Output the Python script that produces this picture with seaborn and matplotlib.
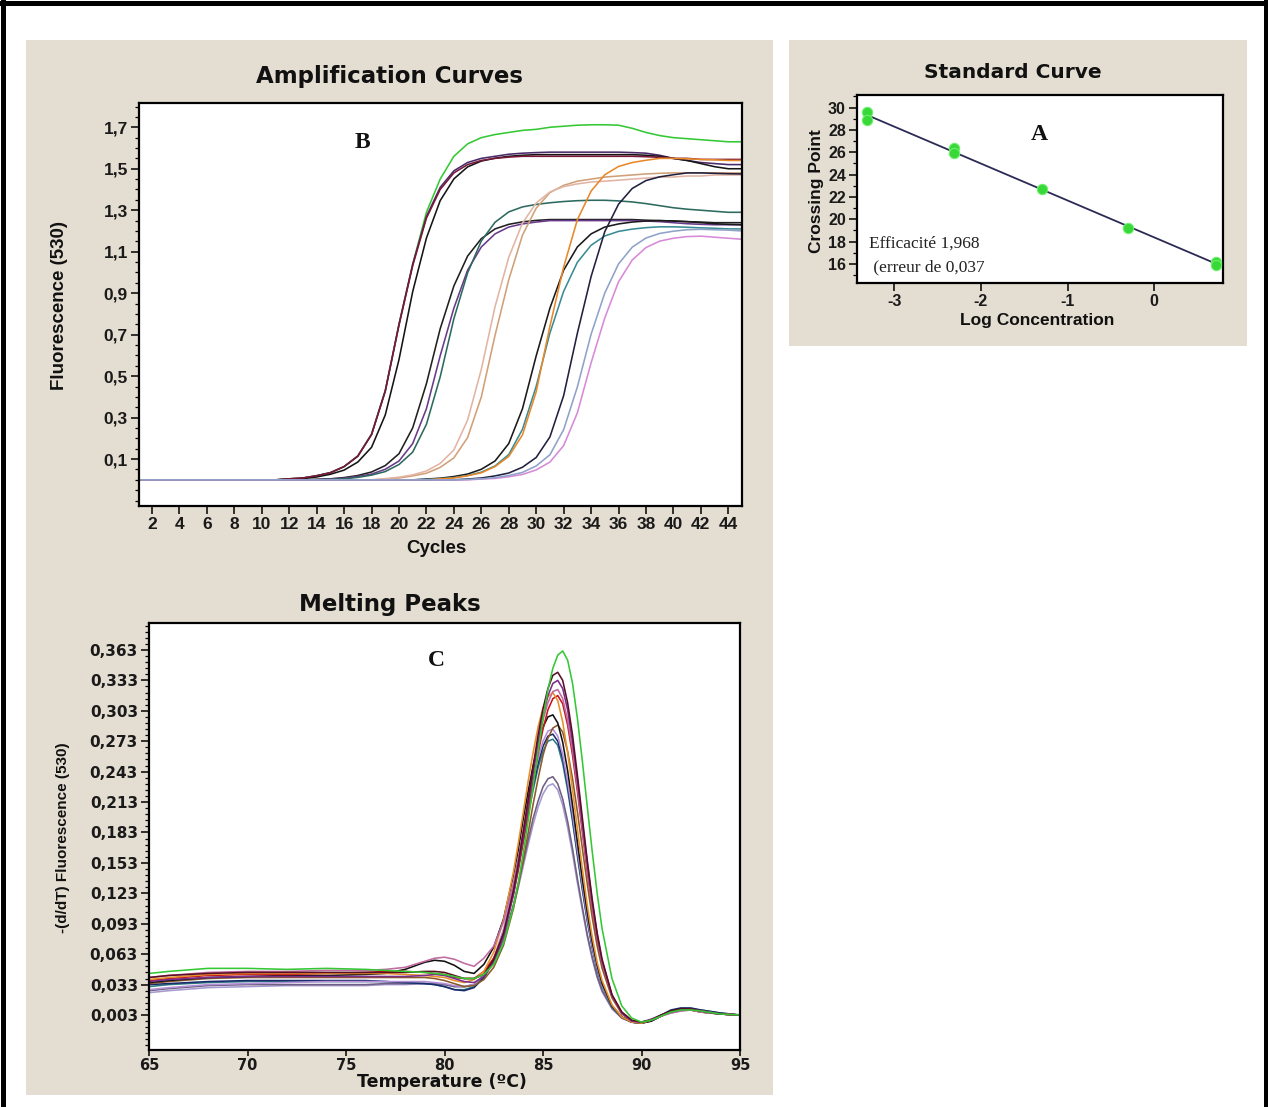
import numpy as np
import pandas as pd
import matplotlib
matplotlib.use("Agg")
import matplotlib.pyplot as plt
import seaborn as sns
from matplotlib.patches import Rectangle
from matplotlib.lines import Line2D
from matplotlib.ticker import FixedLocator, MultipleLocator

# ------------------------------------------------------------------ DATA
# Amplification curves (fluorescence 530 per cycle)
cycles = list(range(1, 46))
amp_names = ["green", "purple1", "black1", "maroon", "black2", "purple2", "teal1",
             "tan", "pinktan", "black3", "teal2", "orange", "navy", "pink", "greyblue"]
amp_colors = ["#35c835", "#4a2a6a", "#151515", "#7a1838", "#202020", "#6a3a8a", "#2c6a60",
              "#d0a078", "#e2b4a4", "#1a1a1a", "#3a8c94", "#e8882a", "#20203f", "#d889d8", "#8fa2c8"]

amp_green = [0.0, 0.0, 0.0, 0.0, 0.0, 0.0, 0.0, 0.0, 0.0, 0.0, 0.0,
             0.005, 0.009, 0.020, 0.035, 0.064, 0.115, 0.220, 0.430, 0.750, 1.040,
             1.290, 1.450, 1.560, 1.620, 1.650, 1.665, 1.675, 1.685, 1.690, 1.700,
             1.705, 1.710, 1.712, 1.712, 1.710, 1.695, 1.675, 1.660, 1.650, 1.645,
             1.640, 1.635, 1.630, 1.630]
amp_purple1 = [0.0, 0.0, 0.0, 0.0, 0.0, 0.0, 0.0, 0.0, 0.0, 0.0, 0.0,
               0.005, 0.009, 0.020, 0.035, 0.064, 0.115, 0.220, 0.430, 0.750, 1.040,
               1.270, 1.410, 1.490, 1.530, 1.550, 1.560, 1.570, 1.575, 1.578, 1.580,
               1.580, 1.580, 1.580, 1.580, 1.580, 1.578, 1.575, 1.565, 1.550, 1.540,
               1.530, 1.525, 1.520, 1.520]
amp_black1 = [0.0, 0.0, 0.0, 0.0, 0.0, 0.0, 0.0, 0.0, 0.0, 0.0, 0.0,
              0.003, 0.006, 0.014, 0.027, 0.047, 0.086, 0.157, 0.313, 0.580, 0.908,
              1.166, 1.346, 1.451, 1.509, 1.537, 1.551, 1.560, 1.565, 1.568, 1.568,
              1.568, 1.568, 1.568, 1.568, 1.568, 1.568, 1.565, 1.560, 1.550, 1.540,
              1.525, 1.510, 1.500, 1.500]
amp_maroon = [0.0, 0.0, 0.0, 0.0, 0.0, 0.0, 0.0, 0.0, 0.0, 0.0, 0.0,
              0.005, 0.009, 0.020, 0.034, 0.064, 0.114, 0.218, 0.427, 0.746, 1.033,
              1.262, 1.400, 1.480, 1.520, 1.540, 1.550, 1.556, 1.560, 1.560, 1.560,
              1.560, 1.560, 1.560, 1.560, 1.560, 1.560, 1.558, 1.555, 1.550, 1.550,
              1.545, 1.545, 1.545, 1.545]
amp_black2 = [0.0, 0.0, 0.0, 0.0, 0.0, 0.0, 0.0, 0.0, 0.0, 0.0, 0.0, 0.0, 0.0,
              0.003, 0.005, 0.011, 0.021, 0.038, 0.069, 0.126, 0.251,
              0.464, 0.728, 0.935, 1.079, 1.163, 1.210, 1.232, 1.244, 1.251, 1.255,
              1.255, 1.255, 1.255, 1.255, 1.255, 1.255, 1.252, 1.250, 1.248, 1.245,
              1.243, 1.240, 1.240, 1.240]
amp_purple2 = [0.0, 0.0, 0.0, 0.0, 0.0, 0.0, 0.0, 0.0, 0.0, 0.0, 0.0, 0.0, 0.0, 0.0,
               0.004, 0.008, 0.016, 0.028, 0.051, 0.091, 0.175,
               0.343, 0.598, 0.828, 1.011, 1.123, 1.186, 1.219, 1.234, 1.243, 1.250,
               1.250, 1.250, 1.250, 1.250, 1.250, 1.250, 1.248, 1.245, 1.240, 1.235,
               1.232, 1.230, 1.230, 1.230]
amp_teal1 = [0.0, 0.0, 0.0, 0.0, 0.0, 0.0, 0.0, 0.0, 0.0, 0.0, 0.0, 0.0, 0.0, 0.0,
             0.003, 0.005, 0.012, 0.023, 0.040, 0.074, 0.134,
             0.268, 0.496, 0.777, 0.998, 1.152, 1.242, 1.292, 1.316, 1.328, 1.336,
             1.342, 1.346, 1.348, 1.348, 1.345, 1.340, 1.332, 1.322, 1.312, 1.305,
             1.300, 1.295, 1.290, 1.290]
amp_tan = [0.0, 0.0, 0.0, 0.0, 0.0, 0.0, 0.0, 0.0, 0.0, 0.0, 0.0, 0.0, 0.0, 0.0, 0.0, 0.0, 0.0, 0.0,
           0.004, 0.009, 0.019,
           0.032, 0.060, 0.106, 0.204, 0.400, 0.697, 0.965, 1.180, 1.310, 1.385,
           1.420, 1.440, 1.450, 1.460, 1.465, 1.470, 1.475, 1.478, 1.480, 1.480,
           1.480, 1.480, 1.480, 1.480]
amp_pinktan = [0.0, 0.0, 0.0, 0.0, 0.0, 0.0, 0.0, 0.0, 0.0, 0.0, 0.0, 0.0, 0.0, 0.0, 0.0, 0.0, 0.0, 0.0,
               0.006, 0.013, 0.024,
               0.043, 0.079, 0.144, 0.288, 0.533, 0.835, 1.073, 1.238, 1.335, 1.388,
               1.414, 1.427, 1.436, 1.440, 1.445, 1.450, 1.455, 1.460, 1.460, 1.465,
               1.465, 1.470, 1.470, 1.470]
amp_black3 = [0.0, 0.0, 0.0, 0.0, 0.0, 0.0, 0.0, 0.0, 0.0, 0.0,
              0.0, 0.0, 0.0, 0.0, 0.0, 0.0, 0.0, 0.0, 0.0, 0.0, 0.0,
              0.004, 0.008, 0.016, 0.028, 0.051, 0.091, 0.175, 0.343, 0.598, 0.828,
              1.011, 1.123, 1.186, 1.219, 1.234, 1.243, 1.248, 1.250, 1.248, 1.245,
              1.240, 1.235, 1.232, 1.230]
amp_teal2 = [0.0, 0.0, 0.0, 0.0, 0.0, 0.0, 0.0, 0.0, 0.0, 0.0,
             0.0, 0.0, 0.0, 0.0, 0.0, 0.0, 0.0, 0.0, 0.0, 0.0, 0.0,
             0.002, 0.005, 0.011, 0.021, 0.037, 0.067, 0.122, 0.244, 0.451, 0.708,
             0.909, 1.049, 1.131, 1.176, 1.198, 1.209, 1.216, 1.220, 1.220, 1.218,
             1.215, 1.213, 1.210, 1.210]
amp_orange = [0.0, 0.0, 0.0, 0.0, 0.0, 0.0, 0.0, 0.0, 0.0, 0.0,
              0.0, 0.0, 0.0, 0.0, 0.0, 0.0, 0.0, 0.0, 0.0, 0.0, 0.0, 0.0,
              0.005, 0.009, 0.020, 0.034, 0.064, 0.113, 0.217, 0.425, 0.741,
              1.026, 1.254, 1.392, 1.471, 1.511, 1.530, 1.541, 1.550, 1.550, 1.548,
              1.545, 1.543, 1.540, 1.540]
amp_navy = [0.0, 0.0, 0.0, 0.0, 0.0, 0.0, 0.0, 0.0, 0.0, 0.0,
            0.0, 0.0, 0.0, 0.0, 0.0, 0.0, 0.0, 0.0, 0.0, 0.0, 0.0, 0.0, 0.0, 0.0,
            0.004, 0.009, 0.019, 0.033, 0.061, 0.108, 0.207,
            0.406, 0.707, 0.980, 1.197, 1.329, 1.405, 1.443, 1.461, 1.471, 1.480,
            1.480, 1.478, 1.476, 1.475]
amp_pink = [0.0, 0.0, 0.0, 0.0, 0.0, 0.0, 0.0, 0.0, 0.0, 0.0,
            0.0, 0.0, 0.0, 0.0, 0.0, 0.0, 0.0, 0.0, 0.0, 0.0, 0.0, 0.0, 0.0, 0.0, 0.0,
            0.004, 0.007, 0.015, 0.026, 0.048, 0.086,
            0.165, 0.323, 0.564, 0.781, 0.955, 1.060, 1.120, 1.151, 1.165, 1.173,
            1.175, 1.170, 1.165, 1.160]
amp_greyblue = [0.0, 0.0, 0.0, 0.0, 0.0, 0.0, 0.0, 0.0, 0.0, 0.0,
                0.0, 0.0, 0.0, 0.0, 0.0, 0.0, 0.0, 0.0, 0.0, 0.0, 0.0, 0.0, 0.0, 0.0,
                0.002, 0.005, 0.011, 0.021, 0.036, 0.067, 0.121,
                0.242, 0.448, 0.702, 0.901, 1.041, 1.122, 1.166, 1.188, 1.199, 1.206,
                1.208, 1.206, 1.204, 1.200]
amp_values = [amp_green, amp_purple1, amp_black1, amp_maroon, amp_black2, amp_purple2, amp_teal1,
              amp_tan, amp_pinktan, amp_black3, amp_teal2, amp_orange, amp_navy, amp_pink, amp_greyblue]

amp_yticks = [0.1, 0.3, 0.5, 0.7, 0.9, 1.1, 1.3, 1.5, 1.7]
amp_ytick_labels = ["0,1", "0,3", "0,5", "0,7", "0,9", "1,1", "1,3", "1,5", "1,7"]
amp_xticks = [2, 4, 6, 8, 10, 12, 14, 16, 18, 20, 22, 24, 26, 28, 30, 32, 34, 36, 38, 40, 42, 44]
amp_xtick_labels = [str(v) for v in amp_xticks]

# Melting peaks: -(d/dT) fluorescence vs temperature
temps = [65, 66, 68, 70, 72, 74, 76, 77, 78, 79, 79.5, 80, 80.5, 81, 81.5,
         82, 82.5, 83, 83.5, 83.75, 84, 84.25, 84.5, 84.75, 85, 85.25, 85.5, 85.75, 86,
         86.25, 86.5, 86.75, 87, 87.25, 87.5, 87.75, 88,
         88.5, 89, 89.5, 90, 90.5, 91, 91.5, 92, 92.5, 93, 94, 95]
melt_names = ["lavender", "greypurple", "teal", "navy", "lilac", "brown", "black", "red",
              "orange", "magenta", "purple", "maroon", "green"]
melt_colors = ["#a59ad0", "#6f5f80", "#2d7d86", "#1b2a6b", "#b590d8", "#8a5a2a", "#111111", "#c8141e",
               "#e8902a", "#c06aa0", "#7b2d8b", "#5a0f24", "#35c835"]
melt_lavender = [0.025, 0.027, 0.030, 0.031, 0.032, 0.032, 0.032, 0.033, 0.033, 0.034, 0.034, 0.033, 0.031,
                 0.031, 0.033,
                 0.042, 0.055, 0.077, 0.110, 0.129, 0.150, 0.171, 0.191, 0.208, 0.221, 0.229, 0.231, 0.225, 0.210,
                 0.188, 0.162, 0.133, 0.106, 0.080, 0.058, 0.040, 0.026,
                 0.009, 0.000, -0.004, -0.005, -0.002, 0.002, 0.005, 0.007, 0.008, 0.006, 0.004, 0.003]
melt_greypurple = [0.027, 0.029, 0.032, 0.033, 0.033, 0.033, 0.033, 0.034, 0.034, 0.034, 0.034, 0.033, 0.031,
                   0.031, 0.033,
                   0.042, 0.056, 0.078, 0.112, 0.133, 0.154, 0.176, 0.197, 0.214, 0.228, 0.236, 0.238, 0.231, 0.216,
                   0.194, 0.167, 0.137, 0.109, 0.082, 0.060, 0.041, 0.027,
                   0.010, 0.000, -0.004, -0.005, -0.002, 0.002, 0.006, 0.008, 0.008, 0.006, 0.004, 0.003]
melt_teal = [0.031, 0.033, 0.035, 0.036, 0.036, 0.036, 0.036, 0.036, 0.035, 0.034, 0.033, 0.031, 0.028,
             0.028, 0.031,
             0.040, 0.056, 0.084, 0.124, 0.149, 0.175, 0.201, 0.225, 0.247, 0.263, 0.273, 0.275, 0.269, 0.251,
             0.225, 0.194, 0.159, 0.126, 0.095, 0.069, 0.047, 0.031,
             0.011, 0.001, -0.004, -0.005, -0.003, 0.002, 0.007, 0.009, 0.009, 0.008, 0.005, 0.003]
melt_navy = [0.033, 0.034, 0.036, 0.037, 0.037, 0.037, 0.037, 0.036, 0.035, 0.034, 0.033, 0.031, 0.028,
             0.027, 0.030,
             0.040, 0.057, 0.085, 0.126, 0.151, 0.177, 0.204, 0.229, 0.251, 0.268, 0.278, 0.280, 0.273, 0.256,
             0.229, 0.197, 0.162, 0.128, 0.097, 0.070, 0.048, 0.032,
             0.012, 0.001, -0.004, -0.005, -0.002, 0.003, 0.008, 0.010, 0.010, 0.008, 0.005, 0.003]
melt_lilac = [0.028, 0.030, 0.033, 0.034, 0.035, 0.036, 0.036, 0.036, 0.036, 0.036, 0.035, 0.034, 0.032,
              0.031, 0.033,
              0.043, 0.059, 0.088, 0.129, 0.155, 0.181, 0.208, 0.234, 0.256, 0.273, 0.283, 0.285, 0.278, 0.260,
              0.233, 0.201, 0.165, 0.131, 0.099, 0.071, 0.049, 0.032,
              0.012, 0.001, -0.004, -0.005, -0.002, 0.002, 0.006, 0.008, 0.008, 0.006, 0.004, 0.003]
melt_brown = [0.034, 0.036, 0.039, 0.040, 0.040, 0.040, 0.040, 0.040, 0.040, 0.040, 0.039, 0.037, 0.034,
              0.031, 0.032,
              0.038, 0.050, 0.072, 0.108, 0.131, 0.156, 0.183, 0.211, 0.236, 0.259, 0.276, 0.286, 0.289, 0.282,
              0.263, 0.236, 0.203, 0.167, 0.132, 0.099, 0.071, 0.049,
              0.020, 0.004, -0.003, -0.004, -0.002, 0.003, 0.006, 0.008, 0.008, 0.006, 0.004, 0.003]
melt_black = [0.035, 0.037, 0.040, 0.041, 0.042, 0.042, 0.043, 0.044, 0.048, 0.055, 0.057, 0.056, 0.052,
              0.046, 0.044,
              0.053, 0.070, 0.098, 0.141, 0.166, 0.197, 0.224, 0.249, 0.271, 0.287, 0.297, 0.299, 0.291, 0.272,
              0.244, 0.210, 0.173, 0.137, 0.104, 0.075, 0.052, 0.034,
              0.012, 0.001, -0.004, -0.005, -0.003, 0.002, 0.007, 0.009, 0.009, 0.007, 0.004, 0.003]
melt_red = [0.037, 0.039, 0.042, 0.043, 0.043, 0.044, 0.045, 0.046, 0.046, 0.045, 0.044, 0.043, 0.040,
            0.039, 0.039,
            0.046, 0.059, 0.083, 0.122, 0.146, 0.174, 0.204, 0.233, 0.261, 0.285, 0.304, 0.315, 0.318, 0.310,
            0.289, 0.259, 0.223, 0.183, 0.144, 0.109, 0.078, 0.054,
            0.022, 0.005, -0.003, -0.004, -0.002, 0.002, 0.006, 0.008, 0.008, 0.007, 0.004, 0.003]
melt_orange = [0.038, 0.040, 0.043, 0.044, 0.044, 0.044, 0.044, 0.044, 0.043, 0.042, 0.041, 0.040, 0.037,
               0.035, 0.038,
               0.046, 0.065, 0.097, 0.144, 0.173, 0.203, 0.234, 0.262, 0.287, 0.306, 0.317, 0.321, 0.313, 0.292,
               0.262, 0.225, 0.186, 0.147, 0.111, 0.080, 0.055, 0.037,
               0.013, 0.001, -0.004, -0.005, -0.002, 0.002, 0.006, 0.008, 0.008, 0.007, 0.004, 0.003]
melt_magenta = [0.040, 0.042, 0.045, 0.046, 0.046, 0.047, 0.047, 0.048, 0.050, 0.056, 0.059, 0.060, 0.058,
                0.054, 0.051,
                0.059, 0.071, 0.095, 0.133, 0.158, 0.185, 0.214, 0.243, 0.270, 0.294, 0.311, 0.322, 0.324, 0.315,
                0.294, 0.264, 0.227, 0.186, 0.147, 0.111, 0.080, 0.054,
                0.022, 0.005, -0.003, -0.004, -0.002, 0.002, 0.005, 0.007, 0.008, 0.006, 0.004, 0.003]
melt_purple = [0.036, 0.038, 0.040, 0.041, 0.041, 0.041, 0.041, 0.041, 0.041, 0.042, 0.043, 0.042, 0.039,
               0.036, 0.035,
               0.041, 0.055, 0.081, 0.122, 0.149, 0.179, 0.210, 0.242, 0.272, 0.298, 0.318, 0.330, 0.333, 0.325,
               0.304, 0.272, 0.234, 0.192, 0.152, 0.114, 0.082, 0.056,
               0.023, 0.005, -0.003, -0.004, -0.001, 0.003, 0.006, 0.008, 0.009, 0.007, 0.004, 0.003]
melt_maroon = [0.040, 0.042, 0.044, 0.045, 0.045, 0.045, 0.045, 0.045, 0.045, 0.046, 0.046, 0.045, 0.042,
               0.039, 0.039,
               0.043, 0.058, 0.084, 0.126, 0.153, 0.184, 0.216, 0.248, 0.279, 0.305, 0.325, 0.338, 0.341, 0.333,
               0.311, 0.279, 0.239, 0.197, 0.155, 0.117, 0.084, 0.058,
               0.023, 0.006, -0.002, -0.004, -0.002, 0.003, 0.007, 0.009, 0.009, 0.007, 0.004, 0.003]
melt_green = [0.044, 0.046, 0.049, 0.049, 0.048, 0.049, 0.048, 0.047, 0.046, 0.045, 0.044, 0.043, 0.041,
              0.039, 0.039,
              0.043, 0.053, 0.074, 0.110, 0.134, 0.163, 0.195, 0.229, 0.263, 0.295, 0.324, 0.345, 0.358, 0.362,
              0.353, 0.330, 0.295, 0.253, 0.208, 0.164, 0.123, 0.088,
              0.039, 0.012, 0.000, -0.004, -0.002, 0.002, 0.006, 0.008, 0.008, 0.007, 0.004, 0.003]
melt_values = [melt_lavender, melt_greypurple, melt_teal, melt_navy, melt_lilac, melt_brown, melt_black,
               melt_red, melt_orange, melt_magenta, melt_purple, melt_maroon, melt_green]

melt_yticks = [0.003, 0.033, 0.063, 0.093, 0.123, 0.153, 0.183, 0.213, 0.243, 0.273, 0.303, 0.333, 0.363]
melt_ytick_labels = ["0,003", "0,033", "0,063", "0,093", "0,123", "0,153", "0,183", "0,213",
                     "0,243", "0,273", "0,303", "0,333", "0,363"]
melt_xticks = [65, 70, 75, 80, 85, 90, 95]
melt_xtick_labels = ["65", "70", "75", "80", "85", "90", "95"]

# Standard curve
log_conc = [-3.32, -3.32, -2.31, -2.31, -1.30, -0.30, 0.71, 0.71]
crossing_point = [29.64, 28.85, 26.40, 25.95, 22.75, 19.20, 16.15, 15.95]
std_xticks = [-3, -2, -1, 0]
std_xtick_labels = ["-3", "-2", "-1", "0"]
std_yticks = [16, 18, 20, 22, 24, 26, 28, 30]
std_ytick_labels = ["16", "18", "20", "22", "24", "26", "28", "30"]
efficiency_text = "Efficacité 1,968"
error_text = " (erreur de 0,037"

# ------------------------------------------------------------------ checks
for nm, vals in zip(amp_names, amp_values):
    if len(vals) != len(cycles):
        raise ValueError(f"amp {nm}: {len(vals)} values")
for nm, vals in zip(melt_names, melt_values):
    if len(vals) != len(temps):
        raise ValueError(f"melt {nm}: {len(vals)} values")

# ------------------------------------------------------------------ STYLE
sns.set_theme(style="white")
plt.rcParams["font.family"] = ["Liberation Sans", "DejaVu Sans"]

W, H = 1268, 1107
fig = plt.figure(figsize=(W / 100, H / 100), dpi=100)
fig.patch.set_facecolor("white")


def fx(px):
    return px / W


def fy(py):
    return 1 - py / H


def axes_px(left, top, right, bottom):
    return [fx(left), fy(bottom), (right - left) / W, (bottom - top) / H]


BEIGE = "#e4ddd1"
fig.add_artist(Rectangle((fx(26), fy(1095)), (773 - 26) / W, (1095 - 40) / H,
                         transform=fig.transFigure, facecolor=BEIGE, edgecolor="none", zorder=-5))
fig.add_artist(Rectangle((fx(789), fy(346)), (1247 - 789) / W, (346 - 40) / H,
                         transform=fig.transFigure, facecolor=BEIGE, edgecolor="none", zorder=-5))
# outer black frame (left, top, right)
lw_frame = 5 * 0.72
fig.add_artist(Line2D([fx(2.5), fx(2.5)], [0, 1], transform=fig.transFigure, color="black", lw=lw_frame, zorder=20))
fig.add_artist(Line2D([0, 1], [fy(2.5), fy(2.5)], transform=fig.transFigure, color="black", lw=lw_frame, zorder=20))
fig.add_artist(Line2D([fx(W - 2.5), fx(W - 2.5)], [0, 1], transform=fig.transFigure, color="black", lw=lw_frame, zorder=20))


def style_axes(ax):
    ax.set_facecolor("white")
    for sp in ax.spines.values():
        sp.set_color("black")
        sp.set_linewidth(1.6)
    ax.tick_params(which="both", bottom=True, left=True, top=False, right=False, direction="out",
                   color="black", labelcolor="#1a1a1a")
    ax.tick_params(which="major", length=6, width=1.1, pad=2)
    ax.tick_params(which="minor", length=3, width=0.9)
    ax.set_xlabel("")
    ax.set_ylabel("")


# ------------------------------------------------------------------ B: amplification
ax_b = fig.add_axes(axes_px(139, 103, 742, 506))
amp_df = pd.DataFrame({
    "Cycle": np.tile(cycles, len(amp_names)),
    "Fluorescence": np.concatenate(amp_values),
    "Curve": np.repeat(amp_names, len(cycles)),
})
sns.lineplot(data=amp_df, x="Cycle", y="Fluorescence", hue="Curve", hue_order=amp_names,
             palette=dict(zip(amp_names, amp_colors)), estimator=None, legend=False,
             linewidth=1.15, sort=False, ax=ax_b)
ax_b.set_xlim(1.05, 45.0)
ax_b.set_ylim(-0.126, 1.817)
style_axes(ax_b)
ax_b.set_xticks(amp_xticks, labels=amp_xtick_labels, fontsize=12.5, fontweight="bold")
ax_b.set_yticks(amp_yticks, labels=amp_ytick_labels, fontsize=12.5, fontweight="bold")
ax_b.yaxis.set_minor_locator(FixedLocator(np.arange(-0.1, 1.82, 0.05)))
fig.text(fx(362), fy(143), "B", family="Liberation Serif", fontweight="bold", fontsize=17,
         ha="center", va="center", color="#111111")
fig.text(fx(390), fy(76), "Amplification Curves", family="DejaVu Sans", fontweight="bold",
         fontsize=16.5, ha="center", va="center", color="#111111")
fig.text(fx(436), fy(549), "Cycles", fontweight="bold", fontsize=13.5, ha="center", va="center",
         color="#111111")
fig.text(fx(59), fy(305), "Fluorescence (530)", fontweight="bold", fontsize=13.5, rotation=90,
         ha="center", va="center", color="#111111")

# ------------------------------------------------------------------ C: melting peaks
ax_c = fig.add_axes(axes_px(149, 623, 740, 1050))
melt_df = pd.DataFrame({
    "Temperature": np.tile(temps, len(melt_names)),
    "dFdT": np.concatenate(melt_values),
    "Curve": np.repeat(melt_names, len(temps)),
})
sns.lineplot(data=melt_df, x="Temperature", y="dFdT", hue="Curve", hue_order=melt_names,
             palette=dict(zip(melt_names, melt_colors)), estimator=None, legend=False,
             linewidth=1.15, sort=False, ax=ax_c)
ax_c.set_xlim(65, 95)
ax_c.set_ylim(-0.0315, 0.3896)
style_axes(ax_c)
ax_c.tick_params(axis="x", which="major", length=4, pad=1.5)
ax_c.set_xticks(melt_xticks, labels=melt_xtick_labels, fontsize=10.5, fontweight="bold",
                family="DejaVu Sans")
ax_c.set_yticks(melt_yticks, labels=melt_ytick_labels, fontsize=11, fontweight="bold",
                family="DejaVu Sans")
ax_c.yaxis.set_minor_locator(FixedLocator(np.arange(-0.027, 0.39, 0.006)))
fig.text(fx(436), fy(660), "C", family="Liberation Serif", fontweight="bold", fontsize=17,
         ha="center", va="center", color="#111111")
fig.text(fx(390), fy(604), "Melting Peaks", family="DejaVu Sans", fontweight="bold",
         fontsize=16.5, ha="center", va="center", color="#111111")
fig.text(fx(442), fy(1082), "Temperature (ºC)", family="DejaVu Sans", fontweight="bold",
         fontsize=12.5, ha="center", va="center", color="#111111")
fig.text(fx(63), fy(838), "-(d/dT) Fluorescence (530)", fontweight="bold",
         fontsize=11, rotation=90, ha="center", va="center", color="#111111")

# ------------------------------------------------------------------ A: standard curve
ax_a = fig.add_axes(axes_px(857, 95, 1223, 283))
sns.regplot(x=np.array(log_conc), y=np.array(crossing_point), scatter=False, ci=None, truncate=True,
            color="#2b2b55", line_kws=dict(lw=1.3), ax=ax_a)
sns.scatterplot(x=log_conc, y=crossing_point, color="#38d838", edgecolor="#6ef06e", linewidth=0.8,
                s=55, zorder=4, ax=ax_a)
ax_a.set_xlim(-3.43, 0.795)
ax_a.set_ylim(14.30, 31.13)
style_axes(ax_a)
ax_a.set_xticks(std_xticks, labels=std_xtick_labels, fontsize=11.5, fontweight="bold")
ax_a.set_yticks(std_yticks, labels=std_ytick_labels, fontsize=11.5, fontweight="bold")
ax_a.yaxis.set_minor_locator(MultipleLocator(1))
fig.text(fx(1039), fy(134), "A", family="Liberation Serif", fontweight="bold", fontsize=17,
         ha="center", va="center", color="#111111")
fig.text(fx(869), fy(244), efficiency_text, family="Liberation Serif", fontsize=12.5,
         ha="left", va="center", color="#222222")
fig.text(fx(869), fy(267), error_text, family="Liberation Serif", fontsize=12.5,
         ha="left", va="center", color="#222222")
fig.text(fx(1013), fy(72), "Standard Curve", family="DejaVu Sans", fontweight="bold",
         fontsize=14.5, ha="center", va="center", color="#111111")
fig.text(fx(1037), fy(321), "Log Concentration", fontweight="bold", fontsize=12.5,
         ha="center", va="center", color="#111111")
fig.text(fx(817), fy(191), "Crossing Point", fontweight="bold", fontsize=12.5, rotation=90,
         ha="center", va="center", color="#111111")

fig.savefig("out.png", dpi=100, facecolor="white")
